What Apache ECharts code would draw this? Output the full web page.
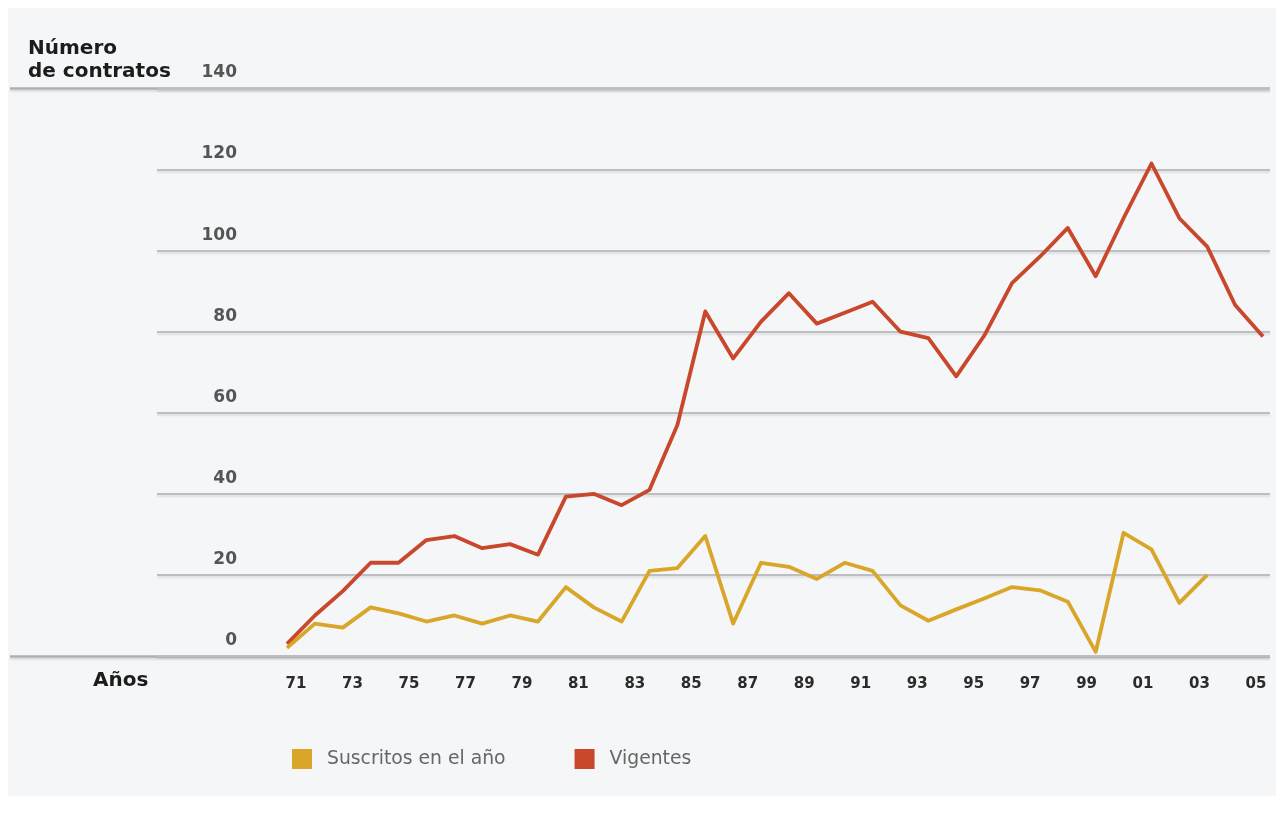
<!DOCTYPE html>
<html>
<head>
<meta charset="utf-8">
<title>Número de contratos</title>
<script src="https://cdn.jsdelivr.net/npm/echarts@6/dist/echarts.min.js"></script>
<style>
  html, body { margin: 0; padding: 0; background: #ffffff; }
  #panel { position: absolute; left: 8px; top: 8px; width: 1268px; height: 788px; background: #f4f6f8; }
  #chart { position: absolute; left: 0; top: 0; width: 1282px; height: 821px; }
</style>
</head>
<body>
<div id="panel"></div>
<div id="chart"></div>
<script>
// Años de la serie (1970–2005)
const years = [
  1970, 1971, 1972, 1973, 1974, 1975, 1976, 1977, 1978, 1979,
  1980, 1981, 1982, 1983, 1984, 1985, 1986, 1987, 1988, 1989,
  1990, 1991, 1992, 1993, 1994, 1995, 1996, 1997, 1998, 1999,
  2000, 2001, 2002, 2003, 2004, 2005
];

// Contratos suscritos en el año (sin dato para 2004 y 2005)
const suscritos = [
  2, 8, 7, 12, 10.5, 8.5, 10, 8, 10, 8.5,
  17, 12, 8.5, 21, 21.7, 29.6, 8, 23, 22, 19,
  23, 21, 12.5, 8.7, 11.5, 14.2, 17, 16.2, 13.4, 1,
  30.4, 26.3, 13.1, 20, null, null
];

// Contratos vigentes
const vigentes = [
  3, 10, 16, 23, 23, 28.6, 29.6, 26.6, 27.6, 25,
  39.3, 40, 37.2, 41, 57, 85, 73.4, 82.5, 89.5, 82,
  84.7, 87.4, 80, 78.4, 69, 79, 92, 98.5, 105.6, 93.7,
  108, 121.5, 108, 101, 86.6, 78.8
];

// Etiquetas del eje horizontal (años impares)
const xTickYears = [
  1971, 1973, 1975, 1977, 1979, 1981, 1983, 1985, 1987,
  1989, 1991, 1993, 1995, 1997, 1999, 2001, 2003, 2005
];

// Escala vertical
const yMin = 0, yMax = 140, yStep = 20;

const seriesNames = ['Suscritos en el año', 'Vigentes'];
const colors = { suscritos: '#d9a62a', vigentes: '#c9472b' };

const pairs = (vals) => years.map((y, i) => [y, vals[i]]).filter(d => d[1] != null);

const FONT = 'DejaVu Sans';
const TOP = 88.5, BOTTOM = 165;

const chart = echarts.init(document.getElementById('chart'), null, { renderer: 'canvas' });

chart.setOption({
  backgroundColor: 'transparent',
  animation: false,
  title: [
    {
      text: 'Número\nde contratos',
      left: 28, top: 37, padding: 0,
      textStyle: { fontFamily: FONT, fontWeight: 'bold', fontSize: 20, lineHeight: 23, color: '#1c1c1c' }
    },
    {
      text: 'Años',
      left: 93, top: 671, padding: 0,
      textStyle: { fontFamily: FONT, fontWeight: 'bold', fontSize: 20, color: '#1c1c1c' }
    }
  ],
  legend: {
    data: seriesNames,
    left: 292, top: 749, padding: 0,
    icon: 'rect',
    itemWidth: 20, itemHeight: 20,
    itemGap: 69,
    textStyle: { fontFamily: FONT, fontSize: 18.8, color: '#666666', padding: [0, 0, 0, 10] }
  },
  grid: [
    // full-width lines for 0 and 140
    { left: 10, right: 12, top: TOP, bottom: BOTTOM },
    // value grid lines and labels
    { left: 157, right: 12, top: TOP, bottom: BOTTOM },
    // plotting area
    { left: 287, right: 19, top: TOP, bottom: BOTTOM }
  ],
  xAxis: [
    { gridIndex: 0, type: 'value', show: false, min: 0, max: 1 },
    {
      gridIndex: 1, type: 'value', min: 1966.077, max: 2005.496,
      axisLine: { show: false }, axisTick: { show: false }, splitLine: { show: false },
      axisLabel: {
        customValues: xTickYears,
        formatter: v => String(Math.round(v) % 100).padStart(2, '0'),
        margin: 21,
        fontFamily: FONT, fontWeight: 'bold', fontSize: 15, color: '#2b2b2b'
      }
    },
    { gridIndex: 2, type: 'value', min: years[0], max: years[years.length - 1], show: false }
  ],
  yAxis: [
    {
      gridIndex: 0, type: 'value', min: yMin, max: yMax, interval: yMax - yMin,
      axisLine: { show: false }, axisTick: { show: false }, axisLabel: { show: false },
      splitLine: { lineStyle: { color: '#aeb0b3', width: 2.5, shadowColor: 'rgba(0,0,0,0.12)', shadowBlur: 2, shadowOffsetY: 2 } }
    },
    {
      gridIndex: 1, type: 'value', min: yMin, max: yMax, interval: yStep,
      axisLine: { show: false }, axisTick: { show: false },
      axisLabel: {
        inside: true, margin: 80, align: 'right', verticalAlign: 'bottom',
        padding: [0, 0, 7, 0],
        fontFamily: FONT, fontWeight: 'bold', fontSize: 17, color: '#555555'
      },
      splitLine: { lineStyle: { color: '#bcbec1', width: 2, shadowColor: 'rgba(0,0,0,0.10)', shadowBlur: 2, shadowOffsetY: 2 } }
    },
    { gridIndex: 2, type: 'value', min: yMin, max: yMax, show: false }
  ],
  series: [
    {
      name: seriesNames[0], type: 'line', xAxisIndex: 2, yAxisIndex: 2,
      data: pairs(suscritos),
      showSymbol: false, z: 4,
      lineStyle: { color: colors.suscritos, width: 3.8, join: 'round' },
      itemStyle: { color: colors.suscritos }
    },
    {
      name: seriesNames[1], type: 'line', xAxisIndex: 2, yAxisIndex: 2,
      data: pairs(vigentes),
      showSymbol: false, z: 3,
      lineStyle: { color: colors.vigentes, width: 3.8, join: 'round' },
      itemStyle: { color: colors.vigentes }
    }
  ]
});
</script>
</body>
</html>
